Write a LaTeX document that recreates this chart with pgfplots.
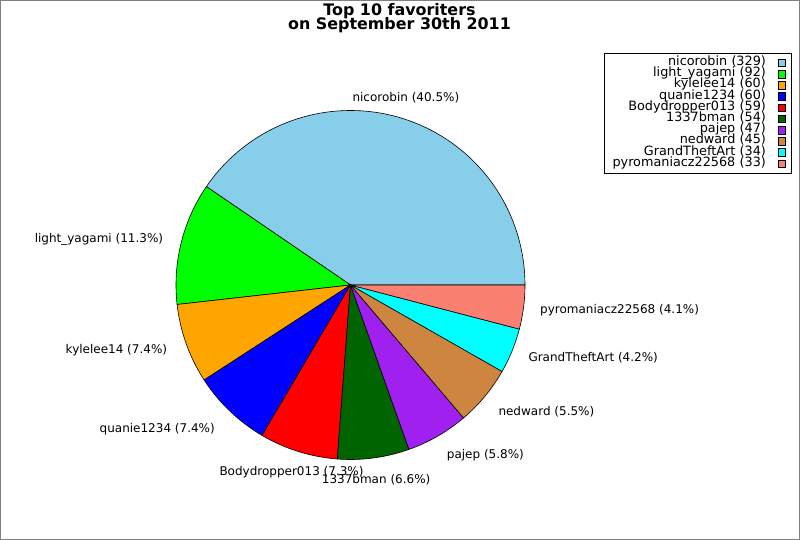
\documentclass[border=0pt]{standalone}
\usepackage{fontspec}
\setmainfont{DejaVu Sans}
\usepackage{pgfplots}
\pgfplotsset{compat=1.18}
\definecolor{cskyblue}{RGB}{135,206,235}
\definecolor{cgreen}{RGB}{0,255,0}
\definecolor{corange}{RGB}{255,165,0}
\definecolor{cblue}{RGB}{0,0,255}
\definecolor{cred}{RGB}{255,0,0}
\definecolor{cdkgreen}{RGB}{0,100,0}
\definecolor{cpurple}{RGB}{160,32,240}
\definecolor{cperu}{RGB}{205,133,63}
\definecolor{ccyan}{RGB}{0,255,255}
\definecolor{csalmon}{RGB}{250,128,114}
\definecolor{cborder}{RGB}{128,128,128}
% favourite counts
\def\cA{329}\def\cB{92}\def\cC{60}\def\cD{60}\def\cE{59}
\def\cF{54}\def\cG{47}\def\cH{45}\def\cI{34}\def\cJ{33}
\pgfmathsetmacro\tot{\cA+\cB+\cC+\cD+\cE+\cF+\cG+\cH+\cI+\cJ}
\pgfmathsetmacro\aA{360*(\cA/\tot)}
\pgfmathsetmacro\aB{\aA+360*(\cB/\tot)}
\pgfmathsetmacro\aC{\aB+360*(\cC/\tot)}
\pgfmathsetmacro\aD{\aC+360*(\cD/\tot)}
\pgfmathsetmacro\aE{\aD+360*(\cE/\tot)}
\pgfmathsetmacro\aF{\aE+360*(\cF/\tot)}
\pgfmathsetmacro\aG{\aF+360*(\cG/\tot)}
\pgfmathsetmacro\aH{\aG+360*(\cH/\tot)}
\pgfmathsetmacro\aI{\aH+360*(\cI/\tot)}
\def\aJ{360}
\def\cx{350.5}\def\cy{255}\def\rr{174.5}
\newcommand{\lbl}{\fontsize{12bp}{14bp}\selectfont}
\newcommand{\lgd}{\fontsize{12.8bp}{13bp}\selectfont}
\newcommand{\ttl}{\fontsize{15.9bp}{16bp}\selectfont\bfseries}
\pgfplotsset{
  wedge/.style={draw=black, line width=0.6bp, samples=90, variable=\t},
}
\begin{document}
\begin{tikzpicture}
\begin{axis}[
  width=800bp, height=540bp, scale only axis,
  xmin=0, xmax=800, ymin=0, ymax=540,
  hide axis, clip=false,
  legend plot pos=right,
  legend cell align=right,
  legend image code/.code={\draw[#1] (0bp,-3.8bp) rectangle (6.6bp,3.8bp);},
  legend style={at={(axis cs:791.7,487)}, anchor=north east,
    draw=black, line width=0.8bp, fill=white,
    inner xsep=5.8bp, inner ysep=4bp,
    column sep=12.4bp, row sep=0pt,
    font=\lgd,
    nodes={inner sep=0pt, text width=156.2bp, align=right,
      text height=8.2bp, text depth=3bp}},
]
\addplot[wedge, fill=cskyblue, domain=0:\aA] ({\cx+\rr*cos(t)},{\cy+\rr*sin(t)}) -- (axis cs:\cx,\cy) -- cycle;
\addlegendentry{nicorobin (329)}
\addplot[wedge, fill=cgreen, domain=\aA:\aB] ({\cx+\rr*cos(t)},{\cy+\rr*sin(t)}) -- (axis cs:\cx,\cy) -- cycle;
\addlegendentry{light\_yagami (92)}
\addplot[wedge, fill=corange, domain=\aB:\aC] ({\cx+\rr*cos(t)},{\cy+\rr*sin(t)}) -- (axis cs:\cx,\cy) -- cycle;
\addlegendentry{kylelee14 (60)}
\addplot[wedge, fill=cblue, domain=\aC:\aD] ({\cx+\rr*cos(t)},{\cy+\rr*sin(t)}) -- (axis cs:\cx,\cy) -- cycle;
\addlegendentry{quanie1234 (60)}
\addplot[wedge, fill=cred, domain=\aD:\aE] ({\cx+\rr*cos(t)},{\cy+\rr*sin(t)}) -- (axis cs:\cx,\cy) -- cycle;
\addlegendentry{Bodydropper013 (59)}
\addplot[wedge, fill=cdkgreen, domain=\aE:\aF] ({\cx+\rr*cos(t)},{\cy+\rr*sin(t)}) -- (axis cs:\cx,\cy) -- cycle;
\addlegendentry{1337bman (54)}
\addplot[wedge, fill=cpurple, domain=\aF:\aG] ({\cx+\rr*cos(t)},{\cy+\rr*sin(t)}) -- (axis cs:\cx,\cy) -- cycle;
\addlegendentry{pajep (47)}
\addplot[wedge, fill=cperu, domain=\aG:\aH] ({\cx+\rr*cos(t)},{\cy+\rr*sin(t)}) -- (axis cs:\cx,\cy) -- cycle;
\addlegendentry{nedward (45)}
\addplot[wedge, fill=ccyan, domain=\aH:\aI] ({\cx+\rr*cos(t)},{\cy+\rr*sin(t)}) -- (axis cs:\cx,\cy) -- cycle;
\addlegendentry{GrandTheftArt (34)}
\addplot[wedge, fill=csalmon, domain=\aI:\aJ] ({\cx+\rr*cos(t)},{\cy+\rr*sin(t)}) -- (axis cs:\cx,\cy) -- cycle;
\addlegendentry{pyromaniacz22568 (33)}

% slice labels
\node[anchor=base west, inner sep=0pt, font=\lbl] at (axis cs:352.3,438.6) {nicorobin (40.5\%)};
\node[anchor=base east, inner sep=0pt, font=\lbl] at (axis cs:163.3,297.9) {light\_yagami (11.3\%)};
\node[anchor=base east, inner sep=0pt, font=\lbl] at (axis cs:167.3,186.6) {kylelee14 (7.4\%)};
\node[anchor=base east, inner sep=0pt, font=\lbl] at (axis cs:215,107.9) {quanie1234 (7.4\%)};
\node[anchor=base west, inner sep=0pt, font=\lbl] at (axis cs:219.3,64.6) {Bodydropper013 (7.3\%)};
\node[anchor=base west, inner sep=0pt, font=\lbl] at (axis cs:321.7,56.6) {1337bman (6.6\%)};
\node[anchor=base west, inner sep=0pt, font=\lbl] at (axis cs:446.7,81.3) {pajep (5.8\%)};
\node[anchor=base west, inner sep=0pt, font=\lbl] at (axis cs:498.3,124.9) {nedward (5.5\%)};
\node[anchor=base west, inner sep=0pt, font=\lbl] at (axis cs:528.3,178.9) {GrandTheftArt (4.2\%)};
\node[anchor=base west, inner sep=0pt, font=\lbl] at (axis cs:540,226.6) {pyromaniacz22568 (4.1\%)};

% title
\node[anchor=base, inner sep=0pt, font=\ttl] at (axis cs:399.5,524.3) {Top 10 favoriters};
\node[anchor=base, inner sep=0pt, font=\ttl] at (axis cs:399.5,510.7) {on September 30th 2011};

% frame
\draw[cborder, line width=1bp] (axis cs:0.5,0.5) rectangle (axis cs:799.5,539.5);
\end{axis}
\end{tikzpicture}
\end{document}
